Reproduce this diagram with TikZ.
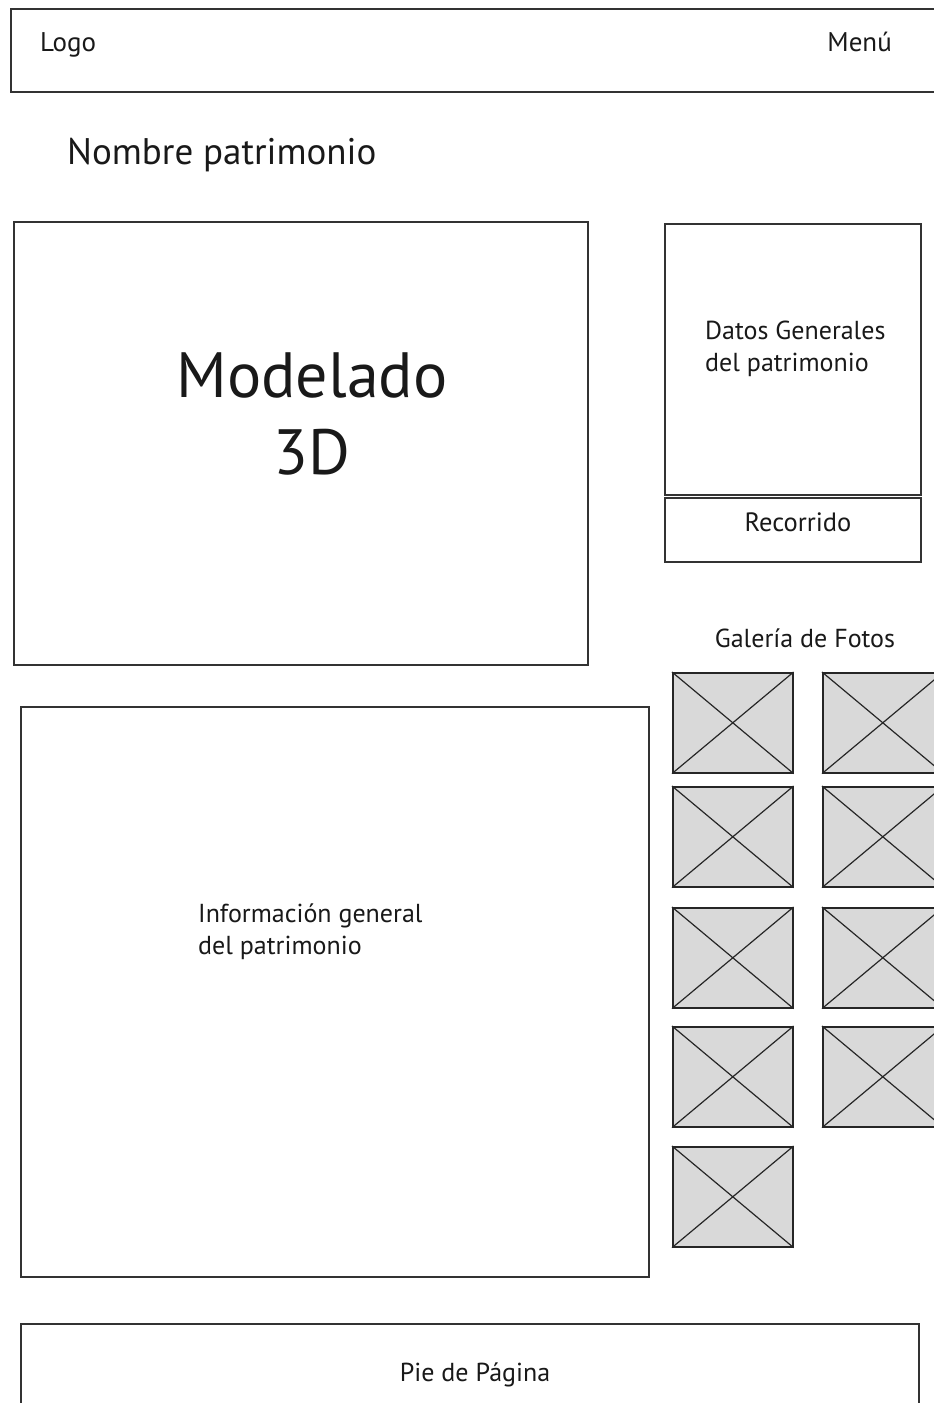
\documentclass[tikz,border=0pt]{standalone}
\usepackage{fontspec}
\setmainfont{PT Sans}
\begin{document}
\begin{tikzpicture}[x=1pt,y=-1pt,
  box/.style={draw=black!80,line width=1.5pt,inner sep=0pt,anchor=north west},
  photo/.style={draw=black!85,line width=1.6pt,fill=gray!30,inner sep=0pt,anchor=north west,minimum width=120pt,minimum height=100pt},
  cross/.style={draw=black!85,line width=1.2pt},
  lbl/.style={inner sep=0pt,text=black!90}]
\useasboundingbox (0,0) rectangle (934,1403);
\clip (0,0) rectangle (934,1403);
\fill[white] (0,0) rectangle (934,1403);
% header
\node[box,minimum width=940pt,minimum height=83pt] (hdr) at (10,8) {};
\node[lbl,anchor=base west,font=\fontsize{27}{30}\selectfont] (logo) at (40,51) {Logo};
\node[lbl,anchor=base east,font=\fontsize{27}{30}\selectfont] (menu) at (892,51) {Menú};
% title
\node[lbl,anchor=base west,font=\fontsize{37}{42}\selectfont] (title) at (67,164) {Nombre patrimonio};
% modelado
\node[box,minimum width=574pt,minimum height=443pt] (model) at (13,221) {};
\node[lbl,align=center,font=\fontsize{64}{77}\selectfont] (modeltxt) at (312,414) {Modelado\\3D};
% datos
\node[box,minimum width=256pt,minimum height=271pt] (datos) at (664,223) {};
\node[lbl,align=left,anchor=north west,font=\fontsize{26}{32}\selectfont] (datostxt) at (705,321) {Datos Generales\\del patrimonio};
% recorrido
\node[box,minimum width=256pt,minimum height=64pt] (reco) at (664,497) {};
\node[lbl,font=\fontsize{26.5}{30}\selectfont] (recotxt) at (798,522) {Recorrido};
% galeria
\node[lbl,font=\fontsize{26}{30}\selectfont] (gal) at (805,638) {Galería de Fotos};
% photos
\foreach \n/\x/\y in {a/672/672,b/822/672,c/672/786,d/822/786,e/672/907,f/822/907,g/672/1026,h/822/1026,i/672/1146}{
  \node[photo] (ph\n) at (\x,\y) {};
  \draw[cross] (ph\n.north west) -- (ph\n.south east);
  \draw[cross] (ph\n.south west) -- (ph\n.north east);
}
% informacion
\node[box,minimum width=628pt,minimum height=570pt] (info) at (20,706) {};
\node[lbl,align=left,anchor=north west,font=\fontsize{26}{32}\selectfont] (infotxt) at (198,904) {Información general\\del patrimonio};
% footer
\node[box,minimum width=898pt,minimum height=120pt] (foot) at (20,1323) {};
\node[lbl,font=\fontsize{26}{30}\selectfont] (foottxt) at (475,1375) {Pie de Página};
\end{tikzpicture}
\end{document}
